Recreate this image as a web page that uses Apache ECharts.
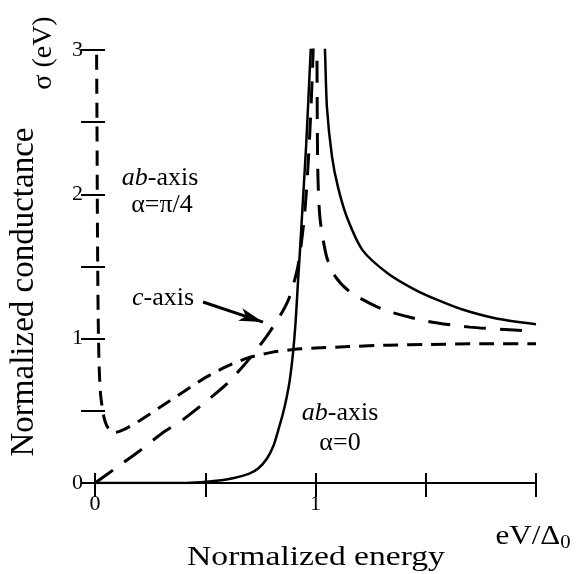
<!DOCTYPE html>
<html><head><meta charset="utf-8">
<script src="https://cdn.jsdelivr.net/npm/echarts@6/dist/echarts.min.js"></script>
<style>html,body{margin:0;padding:0;background:#fff}#c{width:579px;height:574px}</style>
</head><body><div id="c"></div>
<script>
// Tick labels
const xTickLabels = {0: '0', 1: '1'};
const yTickLabels = {0: '0', 1: '1', 2: '2', 3: '3'};

// ab-axis, alpha = 0 (solid)
const abAlpha0 = [
  [0,0],[0.1,0],[0.2,0],[0.3,0],[0.4,0],[0.48,0.005],[0.55,0.015],[0.63,0.035],[0.7,0.065],
  [0.74,0.1],[0.78,0.17],[0.81,0.26],[0.83,0.36],[0.853,0.485],[0.87,0.6],[0.884,0.72],
  [0.898,0.9],[0.91,1.12],[0.92,1.38],[0.93,1.62],[0.943,1.96],[0.958,2.35],[0.972,2.8],
  [0.985,3.2],[1.0,3.6],[1.02,3.6],[1.038,3.2],[1.044,2.95],[1.052,2.6],[1.075,2.26],[1.102,2.05],
  [1.143,1.84],[1.215,1.61],[1.33,1.45],[1.45,1.34],[1.55,1.27],[1.67,1.2],[1.82,1.14],[2.0,1.1]
];
// c-axis (long dash)
const cAxis = [
  [0,0],[0.1,0.11],[0.2,0.22],[0.3,0.34],[0.4,0.44],[0.5,0.56],[0.6,0.69],[0.7,0.86],
  [0.78,1.02],[0.84,1.16],[0.88,1.28],[0.92,1.5],[0.95,1.85],[0.97,2.3],[0.985,2.8],
  [1.0,3.4],[1.005,3.3],[1.01,2.2],[1.02,1.84],[1.05,1.57],[1.09,1.43],
  [1.16,1.32],[1.31,1.2],[1.51,1.12],[1.7,1.08],[1.9,1.06],[2.0,1.05]
];
// ab-axis, alpha = pi/4 (short dash)
const abAlphaPi4 = [
  [0.006,3.3],[0.009,2.5],[0.011,1.8],[0.014,1.2],[0.018,0.85],[0.025,0.62],[0.04,0.46],
  [0.06,0.38],[0.09,0.35],[0.13,0.37],[0.2,0.43],[0.3,0.53],[0.4,0.63],[0.5,0.73],[0.6,0.81],
  [0.7,0.87],[0.8,0.905],[0.9,0.925],[1.0,0.935],[1.15,0.945],[1.33,0.955],
  [1.52,0.96],[1.75,0.965],[2.0,0.965]
];
// arrow annotation pointing at c-axis curve
const cAxisArrow = [[0.49,1.254],[0.762,1.115]];

const FONT = '"Liberation Serif", "Times New Roman", serif';
const chart = echarts.init(document.getElementById('c'), null, {renderer: 'canvas'});

const center = {textAlign: 'center', textVerticalAlign: 'middle', align: 'center', verticalAlign: 'middle', fill: '#000'};
const richAb = {
  i: {fontStyle: 'italic', fontSize: 26, fontFamily: FONT},
  n: {fontSize: 26, fontFamily: FONT}
};
const lineBase = {type: 'line', showSymbol: false, symbol: 'none', smooth: 0.25, clip: true};

chart.setOption({
  animation: false,
  backgroundColor: '#fff',
  grid: {left: 95, right: 43, top: 50, bottom: 91},
  xAxis: [
    {
      type: 'value', min: 0, max: 2, interval: 0.5, position: 'bottom',
      axisLine: {show: true, lineStyle: {color: '#000', width: 2}},
      axisTick: {show: true, inside: true, length: 10, lineStyle: {color: '#000', width: 2}},
      axisLabel: {margin: 10, fontSize: 22, fontFamily: FONT, color: '#000',
        formatter: v => (xTickLabels[v] !== undefined ? xTickLabels[v] : '')},
      splitLine: {show: false}
    },
    {
      type: 'value', min: 0, max: 2, interval: 0.5, position: 'top',
      axisLine: {show: true, lineStyle: {color: '#000', width: 2}},
      axisTick: {show: true, inside: true, length: 14, lineStyle: {color: '#000', width: 2}},
      axisLabel: {show: false}, splitLine: {show: false}
    }
  ],
  yAxis: [
    {
      type: 'value', min: 0, max: 3, interval: 0.5, position: 'left',
      axisLine: {show: false},
      axisTick: {show: true, inside: false, length: 5, lineStyle: {color: '#000', width: 2}},
      axisLabel: {margin: 12, fontSize: 22, fontFamily: FONT, color: '#000',
        formatter: v => (yTickLabels[v] !== undefined ? yTickLabels[v] : '')},
      splitLine: {show: false}
    },
    {
      type: 'value', min: 0, max: 3, interval: 0.5, position: 'right',
      axisLine: {show: false},
      axisTick: {show: true, inside: true, length: 14, lineStyle: {color: '#000', width: 2}},
      axisLabel: {show: false}, splitLine: {show: false}
    },
    {
      type: 'value', min: 0, max: 3, interval: 0.5, position: 'left', offset: 0,
      axisLine: {show: false},
      axisTick: {show: true, inside: true, length: 10, lineStyle: {color: '#000', width: 2}},
      axisLabel: {show: false}, splitLine: {show: false}
    }
  ],
  series: [
    Object.assign({}, lineBase, {
      name: 'ab-axis α=0', data: abAlpha0,
      lineStyle: {color: '#000', width: 2.5, type: 'solid'}
    }),
    Object.assign({}, lineBase, {
      name: 'c-axis', data: cAxis,
      lineStyle: {color: '#000', width: 3, type: [22, 14]},
      markLine: {
        silent: true, symbol: ['none', 'arrow'], symbolSize: [10, 24],
        lineStyle: {color: '#000', width: 3, type: 'solid'},
        label: {show: false},
        data: [[{coord: cAxisArrow[0]}, {coord: cAxisArrow[1]}]]
      }
    }),
    Object.assign({}, lineBase, {
      name: 'ab-axis α=π/4', data: abAlphaPi4,
      lineStyle: {color: '#000', width: 3, type: [15, 9]}
    })
  ],
  graphic: [
    {type: 'text', x: 24, y: 292, rotation: Math.PI / 2, z: 100,
      style: Object.assign({text: 'Normalized conductance', fontSize: 33, fontFamily: FONT}, center)},
    {type: 'text', x: 44, y: 53, rotation: Math.PI / 2, z: 100,
      style: Object.assign({text: 'σ (eV)', fontSize: 28, fontFamily: FONT}, center)},
    {type: 'text', x: 316, y: 558, scaleX: 1.2, z: 100,
      style: Object.assign({text: 'Normalized energy', fontSize: 28, fontFamily: FONT}, center)},
    {type: 'text', x: 533, y: 537, scaleX: 1.15, z: 100,
      style: Object.assign({text: '{n|eV/Δ}{s|0}',
        rich: {n: {fontSize: 27, fontFamily: FONT}, s: {fontSize: 18, fontFamily: FONT, padding: [12, 0, 0, 0]}}}, center)},
    {type: 'text', x: 160, y: 178, z: 100,
      style: Object.assign({text: '{i|ab}{n|-axis}', rich: richAb}, center)},
    {type: 'text', x: 162, y: 205, z: 100,
      style: Object.assign({text: 'α=π/4', fontSize: 26, fontFamily: FONT}, center)},
    {type: 'text', x: 163, y: 298, z: 100,
      style: Object.assign({text: '{i|c}{n|-axis}', rich: richAb}, center)},
    {type: 'text', x: 340, y: 413, z: 100,
      style: Object.assign({text: '{i|ab}{n|-axis}', rich: richAb}, center)},
    {type: 'text', x: 340, y: 443, z: 100,
      style: Object.assign({text: 'α=0', fontSize: 26, fontFamily: FONT}, center)}
  ]
});
</script>
</body></html>
